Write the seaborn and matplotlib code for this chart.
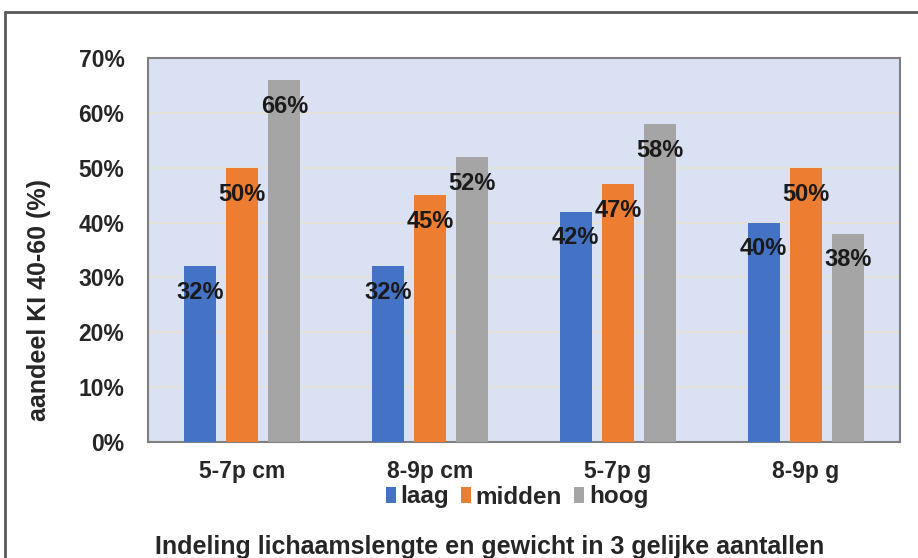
import pandas as pd
import numpy as np
import matplotlib.pyplot as plt
import seaborn as sns
from matplotlib.patches import Patch
from matplotlib.lines import Line2D

categories = ['5-7p cm', '8-9p cm', '5-7p g', '8-9p g']
groups = ['laag', 'midden', 'hoog']
laag = [32, 32, 42, 40]
midden = [50, 45, 47, 50]
hoog = [66, 52, 58, 38]
colors = ['#4472C4', '#ED7D31', '#A5A5A5']

df = pd.DataFrame({
    'categorie': categories * 3,
    'groep': ['laag'] * 4 + ['midden'] * 4 + ['hoog'] * 4,
    'waarde': laag + midden + hoog,
})

sns.set_style('white')
plt.rcParams['font.family'] = ['Liberation Sans', 'DejaVu Sans']
plt.rcParams['font.weight'] = 'bold'

fig = plt.figure(figsize=(9.18, 5.58), dpi=100)
ax = fig.add_axes([148 / 918, 1 - 442 / 558, 752 / 918, 384 / 558])
ax.set_facecolor('#D9E1F2')

sns.barplot(data=df, x='categorie', y='waarde', hue='groep', order=categories,
            hue_order=groups, palette=colors, width=0.675, gap=0.24,
            saturation=1, linewidth=0, legend=False, ax=ax, zorder=3)

ax.set_ylim(0, 70)
ax.set_yticks(np.arange(0, 71, 10))
ax.set_yticklabels([f'{t}%' for t in range(0, 71, 10)])
ax.grid(axis='y', color='#E6E3D6', linewidth=1.3, zorder=0)
ax.set_axisbelow(True)
ax.tick_params(axis='both', length=0, labelsize=16.5)
ax.tick_params(axis='y', pad=17)
ax.tick_params(axis='x', pad=13)
for lbl in ax.get_xticklabels() + ax.get_yticklabels():
    lbl.set_fontweight('bold')
ax.set_xlabel('')
ax.set_ylabel('')
for s in ax.spines.values():
    s.set_visible(True)
    s.set_color('#7F7F7F')
    s.set_linewidth(1.5)

for cont in ax.containers:
    for bar in cont:
        h = bar.get_height()
        ax.text(bar.get_x() + bar.get_width() / 2, h - 4.8, f'{h:.0f}%',
                ha='center', va='center', fontsize=17, fontweight='bold',
                color='#1A1A1A', zorder=5)

handles = [Patch(facecolor=c, edgecolor='none') for c in colors]
fig.legend(handles, groups, loc='center', bbox_to_anchor=(517 / 918, 1 - 497 / 558),
           ncol=3, frameon=False, handlelength=0.4, handleheight=0.6,
           handletextpad=0.2, columnspacing=0.5, prop={'weight': 'bold', 'size': 17.5})

fig.text(39 / 918, 1 - 300 / 558, 'aandeel KI 40-60 (%)', rotation=90,
         ha='center', va='center', fontsize=18, fontweight='bold')
fig.text(490 / 918, 1 - 547 / 558, 'Indeling lichaamslengte en gewicht in 3 gelijke aantallen',
         ha='center', va='center', fontsize=18, fontweight='bold')

# outer chart border (only left and top visible in the crop)
fig.add_artist(Line2D([5 / 918, 5 / 918], [0, 1 - 12 / 558], transform=fig.transFigure,
                      color='#595959', linewidth=2))
fig.add_artist(Line2D([5 / 918, 1], [1 - 12 / 558, 1 - 12 / 558], transform=fig.transFigure,
                      color='#595959', linewidth=2))

fig.savefig('out.png', dpi=100)
